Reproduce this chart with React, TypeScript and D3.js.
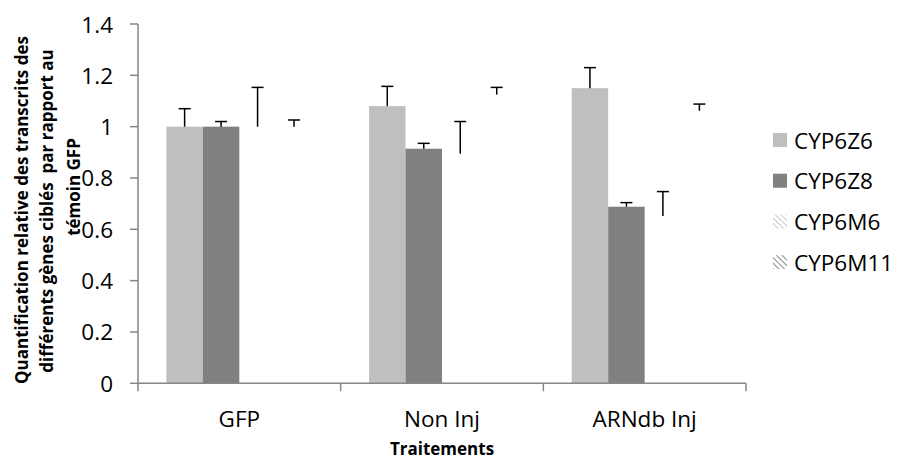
import React from "react";
import * as d3 from "d3";

const categories = ["GFP", "Non Inj", "ARNdb Inj"];
const seriesNames = ["CYP6Z6", "CYP6Z8", "CYP6M6", "CYP6M11"];
const cyp6z6 = [1.0, 1.08, 1.15];
const cyp6z6Err = [0.07, 0.077, 0.08];
const cyp6z8 = [1.0, 0.914, 0.688];
const cyp6z8Err = [0.02, 0.021, 0.016];
const cyp6m6 = [1.0, 0.894, 0.652];
const cyp6m6Err = [0.153, 0.126, 0.095];
const cyp6m11 = [1.0, 1.125, 1.062];
const cyp6m11Err = [0.026, 0.028, 0.026];
const yTicks = [0, 0.2, 0.4, 0.6, 0.8, 1, 1.2, 1.4];
const yTitleLines = [
  "Quantification relative des transcrits des",
  "différents gènes ciblés  par rapport au",
  "témoin GFP",
];
const xTitle = "Traitements";

const W = 900;
const H = 461;
const left = 138;
const right = 746;
const top = 24;
const bottom = 383.3;

const fills = ["#BFBFBF", "#808080", "url(#hatchLight)", "url(#hatchDark)"];
const barFills = ["#BFBFBF", "#808080", "none", "none"];

export default function App() {
  const values = [cyp6z6, cyp6z8, cyp6m6, cyp6m11];
  const errs = [cyp6z6Err, cyp6z8Err, cyp6m6Err, cyp6m11Err];
  const y = d3.scaleLinear().domain([0, 1.4]).range([bottom, top]);
  const x0 = d3
    .scaleBand()
    .domain(categories)
    .range([left, right])
    .paddingInner(0.28)
    .paddingOuter(0.14);
  const x1 = d3.scaleBand().domain(seriesNames).range([0, x0.bandwidth()]);
  const step = x0.step();
  const boundaries = d3.range(categories.length + 1).map((i) => left + i * step);
  const font = "'Open Sans', sans-serif";
  const axisColor = "#868686";
  const capHalf = 6;

  return (
    <svg
      width={W}
      height={H}
      style={{ position: "absolute", left: 0, top: 0, background: "#fff" }}
      fontFamily={font}
    >
      <defs>
        <pattern id="hatchLight" width="4" height="4" patternUnits="userSpaceOnUse" patternTransform="rotate(-45)">
          <rect width="4" height="4" fill="#fff" />
          <line x1="0" y1="0" x2="0" y2="4" stroke="#C8C8C8" strokeWidth="2" />
        </pattern>
        <pattern id="hatchDark" width="4" height="4" patternUnits="userSpaceOnUse" patternTransform="rotate(-45)">
          <rect width="4" height="4" fill="#fff" />
          <line x1="0" y1="0" x2="0" y2="4" stroke="#8A8A8A" strokeWidth="2" />
        </pattern>
      </defs>
      <rect width={W} height={H} fill="#fff" />

      {/* bars */}
      {categories.map((c, ci) =>
        seriesNames.map((s, si) => {
          const v = values[si][ci];
          const bx = (x0(c) as number) + (x1(s) as number);
          return (
            <rect
              key={c + s}
              x={bx}
              y={y(v)}
              width={x1.bandwidth()}
              height={bottom - y(v)}
              fill={barFills[si]}
            />
          );
        })
      )}

      {/* axes */}
      <line x1={left} x2={left} y1={top} y2={bottom} stroke={axisColor} strokeWidth={1.5} />
      {yTicks.map((t) => (
        <g key={t}>
          <line x1={left - 8} x2={left} y1={y(t)} y2={y(t)} stroke={axisColor} strokeWidth={1.5} />
          <text
            x={113}
            y={y(t)}
            textAnchor="end"
            dominantBaseline="central"
            fontSize={22.5}
            fill="#000"
          >
            {d3.format("~g")(t)}
          </text>
        </g>
      ))}
      <line x1={left} x2={right} y1={bottom} y2={bottom} stroke={axisColor} strokeWidth={1.5} />
      {boundaries.map((b, i) => (
        <line key={i} x1={b} x2={b} y1={bottom} y2={bottom + 8} stroke={axisColor} strokeWidth={1.5} />
      ))}
      {categories.map((c) => (
        <text
          key={c}
          x={(x0(c) as number) + x0.bandwidth() / 2}
          y={427}
          textAnchor="middle"
          fontSize={22.5}
          fill="#000"
        >
          {c}
        </text>
      ))}

      {/* error bars */}
      {categories.map((c, ci) =>
        seriesNames.map((s, si) => {
          const v = values[si][ci];
          const e = errs[si][ci];
          const cx = (x0(c) as number) + (x1(s) as number) + x1.bandwidth() / 2;
          return (
            <g key={"e" + c + s} stroke="#000" strokeWidth={1.5}>
              <line x1={cx} x2={cx} y1={y(v)} y2={y(v + e)} />
              <line x1={cx - capHalf} x2={cx + capHalf} y1={y(v + e)} y2={y(v + e)} />
            </g>
          );
        })
      )}

      {/* titles */}
      <text x={442} y={455} textAnchor="middle" fontSize={17} fontWeight="bold" fill="#000">
        {xTitle}
      </text>
      {yTitleLines.map((l, i) => {
        const bx = [28, 53, 80][i];
        const cy = [210, 211, 187][i];
        return (
          <text
            key={i}
            transform={`translate(${bx},${cy}) rotate(-90)`}
            textAnchor="middle"
            fontSize={17}
            fontWeight="bold"
            fill="#000"
            style={{ whiteSpace: "pre" }}
          >
            {l}
          </text>
        );
      })}

      {/* legend */}
      {seriesNames.map((s, i) => {
        const cy = 140 + i * 40.7;
        return (
          <g key={s}>
            <rect x={773} y={cy - 7} width={14} height={14} fill={fills[i]} />
            <text x={794} y={cy} dominantBaseline="central" fontSize={22.5} fill="#000">
              {s}
            </text>
          </g>
        );
      })}
    </svg>
  );
}
